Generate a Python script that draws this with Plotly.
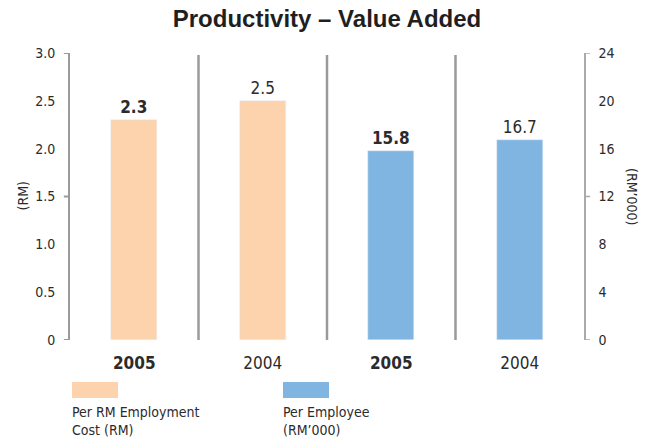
import plotly.graph_objects as go

categories = ["2005", "2004", "2005", "2004"]
bold_flags = [True, False, True, False]
rm_values = [2.3, 2.5]          # Per RM Employment Cost (RM), left axis
emp_values = [15.8, 16.7]       # Per Employee (RM'000), right axis
left_ticks = [0, 0.5, 1.0, 1.5, 2.0, 2.5, 3.0]
left_ticktext = ["0", "0.5", "1.0", "1.5", "2.0", "2.5", "3.0"]
right_ticks = [0, 4, 8, 12, 16, 20, 24]
legend_labels = ["Per RM Employment<br>Cost (RM)", "Per Employee<br>(RM’000)"]

PEACH = "#FDD3AE"
BLUE = "#81B5E1"
GRAY = "#9A9A9A"
NARROW = "DejaVu Sans Condensed, Liberation Sans Narrow, sans-serif"
TXT = "#2b2b2b"

def fmt(v, b):
    return f"<b>{v}</b>" if b else f"{v}"

xs = list(range(len(categories)))
fig = go.Figure()
fig.add_trace(go.Bar(
    x=xs[:2], y=rm_values, marker_color=PEACH, width=0.36,
    text=[fmt(v, b) for v, b in zip(rm_values, bold_flags[:2])],
    textposition="outside", cliponaxis=False,
    textfont=dict(family=NARROW, size=17, color=TXT),
    yaxis="y", showlegend=False))
fig.add_trace(go.Bar(
    x=xs[2:], y=emp_values, marker_color=BLUE, width=0.36,
    text=[fmt(v, b) for v, b in zip(emp_values, bold_flags[2:])],
    textposition="outside", cliponaxis=False,
    textfont=dict(family=NARROW, size=17, color=TXT),
    yaxis="y2", showlegend=False))

shapes = []
# separators
for s in [0.5, 1.5, 2.5]:
    shapes.append(dict(type="line", xref="x", yref="y", x0=s, x1=s, y0=0, y1=2.98,
                       line=dict(color=GRAY, width=2.5)))
# left axis bracket ticks
for t in [0, 1.5, 3.0]:
    shapes.append(dict(type="line", xref="paper", yref="y", x0=-0.012, x1=0, y0=t, y1=t,
                       line=dict(color=GRAY, width=2)))
# right axis bracket ticks
for t in [0, 12, 24]:
    shapes.append(dict(type="line", xref="paper", yref="y2", x0=1, x1=1.012, y0=t, y1=t,
                       line=dict(color="#AAAAAA", width=1.5)))

# legend swatches
W, H = 514, 287
def px(x): return (x - 70) / W
def py(y): return (340 - y) / H
for x0, c in [(72, PEACH), (283, BLUE)]:
    shapes.append(dict(type="rect", xref="paper", yref="paper",
                       x0=px(x0), x1=px(x0 + 46), y0=py(398), y1=py(382),
                       fillcolor=c, line=dict(width=0)))

annotations = []
for x0, lab in zip([72, 283], legend_labels):
    annotations.append(dict(xref="paper", yref="paper", x=px(x0 - 2), y=py(402),
                            xanchor="left", yanchor="top", align="left", showarrow=False,
                            text=lab, font=dict(family=NARROW, size=14, color=TXT)))
annotations.append(dict(xref="paper", yref="paper", x=px(22), y=0.5, textangle=-90,
                        xanchor="center", yanchor="middle",
                        showarrow=False, text="(RM)",
                        font=dict(family=NARROW, size=14, color=TXT)))
annotations.append(dict(xref="paper", yref="paper", x=px(632), y=py(196), textangle=90,
                        xanchor="center", yanchor="middle",
                        showarrow=False, text="(RM’000)",
                        font=dict(family=NARROW, size=14, color=TXT)))

fig.update_layout(
    width=649, height=440,
    margin=dict(l=70, r=65, t=53, b=100),
    paper_bgcolor="white", plot_bgcolor="white",
    title=dict(text="<b>Productivity – Value Added</b>", x=0.5, xref="paper",
               y=1 - 19 / 440, yanchor="middle",
               font=dict(family="Liberation Sans, Arial, sans-serif", size=24, color="#1f1f1f")),
    xaxis=dict(range=[-0.5, 3.5], tickvals=xs,
               ticktext=[fmt(c, b) for c, b in zip(categories, bold_flags)],
               showgrid=False, zeroline=False, showline=False, ticks="",
               ticklabelstandoff=11,
               tickfont=dict(family=NARROW, size=17, color=TXT)),
    yaxis=dict(range=[0, 3], tickvals=left_ticks, ticktext=left_ticktext,
               showgrid=False, zeroline=False, showline=True, linecolor=GRAY, linewidth=2,
               ticks="", ticklabelstandoff=10,
               tickfont=dict(family=NARROW, size=14, color=TXT)),
    yaxis2=dict(range=[0, 24], tickvals=right_ticks, overlaying="y", side="right",
                showgrid=False, zeroline=False, showline=True, linecolor="#AAAAAA", linewidth=1.5,
                ticks="", ticklabelstandoff=10,
                tickfont=dict(family=NARROW, size=14, color=TXT)),
    shapes=shapes, annotations=annotations,
    bargap=0, barmode="overlay",
)
fig.write_html("out.html")
